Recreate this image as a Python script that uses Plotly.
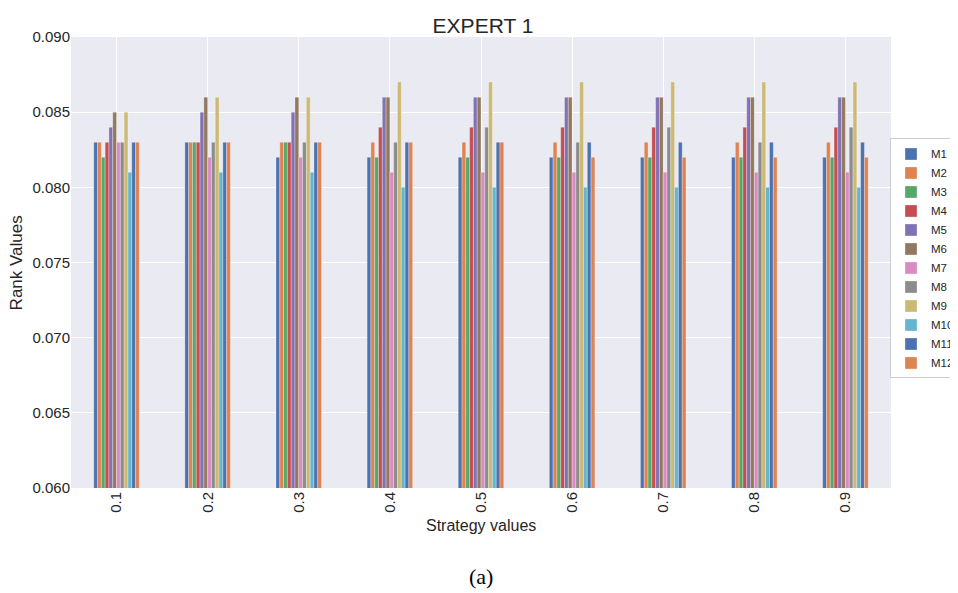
import plotly.graph_objects as go

categories = ["0.1", "0.2", "0.3", "0.4", "0.5", "0.6", "0.7", "0.8", "0.9"]
series_names = ["M1", "M2", "M3", "M4", "M5", "M6", "M7", "M8", "M9", "M10", "M11", "M12"]
M1 = [0.083, 0.083, 0.082, 0.082, 0.082, 0.082, 0.082, 0.082, 0.082]
M2 = [0.083, 0.083, 0.083, 0.083, 0.083, 0.083, 0.083, 0.083, 0.083]
M3 = [0.082, 0.083, 0.083, 0.082, 0.082, 0.082, 0.082, 0.082, 0.082]
M4 = [0.083, 0.083, 0.083, 0.084, 0.084, 0.084, 0.084, 0.084, 0.084]
M5 = [0.084, 0.085, 0.085, 0.086, 0.086, 0.086, 0.086, 0.086, 0.086]
M6 = [0.085, 0.086, 0.086, 0.086, 0.086, 0.086, 0.086, 0.086, 0.086]
M7 = [0.083, 0.082, 0.082, 0.081, 0.081, 0.081, 0.081, 0.081, 0.081]
M8 = [0.083, 0.083, 0.083, 0.083, 0.084, 0.083, 0.084, 0.083, 0.084]
M9 = [0.085, 0.086, 0.086, 0.087, 0.087, 0.087, 0.087, 0.087, 0.087]
M10 = [0.081, 0.081, 0.081, 0.080, 0.080, 0.080, 0.080, 0.080, 0.080]
M11 = [0.083, 0.083, 0.083, 0.083, 0.083, 0.083, 0.083, 0.083, 0.083]
M12 = [0.083, 0.083, 0.083, 0.083, 0.083, 0.082, 0.082, 0.082, 0.082]
values = [M1, M2, M3, M4, M5, M6, M7, M8, M9, M10, M11, M12]
colors = ["#4C72B0", "#DD8452", "#55A868", "#C44E52", "#8172B3", "#937860",
          "#DA8BC3", "#8C8C8C", "#CCB974", "#64B5CD", "#4C72B0", "#DD8452"]

fig = go.Figure()
for name, vals, c in zip(series_names, values, colors):
    fig.add_trace(go.Bar(x=categories, y=vals, name=name,
                         marker=dict(color=c, line=dict(width=0.5, color="rgba(255,255,255,0.6)"))))

fig.update_layout(
    width=950, height=585,
    barmode="group", bargap=0.5, bargroupgap=0,
    plot_bgcolor="#EAEAF2", paper_bgcolor="white",
    margin=dict(l=63, r=67, t=29, b=105, autoexpand=False),
    font=dict(family="Liberation Sans, Arial", color="#262626"),
    title=dict(text="EXPERT 1", x=0.5, xanchor="center", y=0.97, yanchor="middle",
               font=dict(size=21, color="#262626")),
    legend=dict(x=0.9988, y=0.775, xanchor="left", yanchor="top",
                bgcolor="white", bordercolor="#CCCCCC", borderwidth=1,
                font=dict(size=11.5, color="#262626"), tracegroupgap=0),
    xaxis=dict(showgrid=True, gridcolor="white", gridwidth=1, tickangle=-90,
               tickfont=dict(size=15), ticks="", zeroline=False, automargin=False),
    yaxis=dict(range=[0.060, 0.090], dtick=0.005, tickformat=".3f",
               showgrid=True, gridcolor="white", gridwidth=1, tickfont=dict(size=15),
               ticks="", zeroline=False, automargin=False),
    annotations=[
        dict(text="Rank Values", xref="paper", yref="paper", x=-0.066, y=0.5,
             xanchor="center", yanchor="middle", textangle=-90, showarrow=False,
             font=dict(size=17, color="#262626")),
        dict(text="Strategy values", xref="paper", yref="paper", x=0.5, y=-0.084,
             xanchor="center", yanchor="middle", showarrow=False,
             font=dict(size=16, color="#262626")),
        dict(text="(a)", xref="paper", yref="paper", x=0.5, y=-0.197,
             xanchor="center", yanchor="middle", showarrow=False,
             font=dict(size=22, family="Liberation Serif, Times New Roman", color="black")),
    ],
)

fig.write_html("out.html")
